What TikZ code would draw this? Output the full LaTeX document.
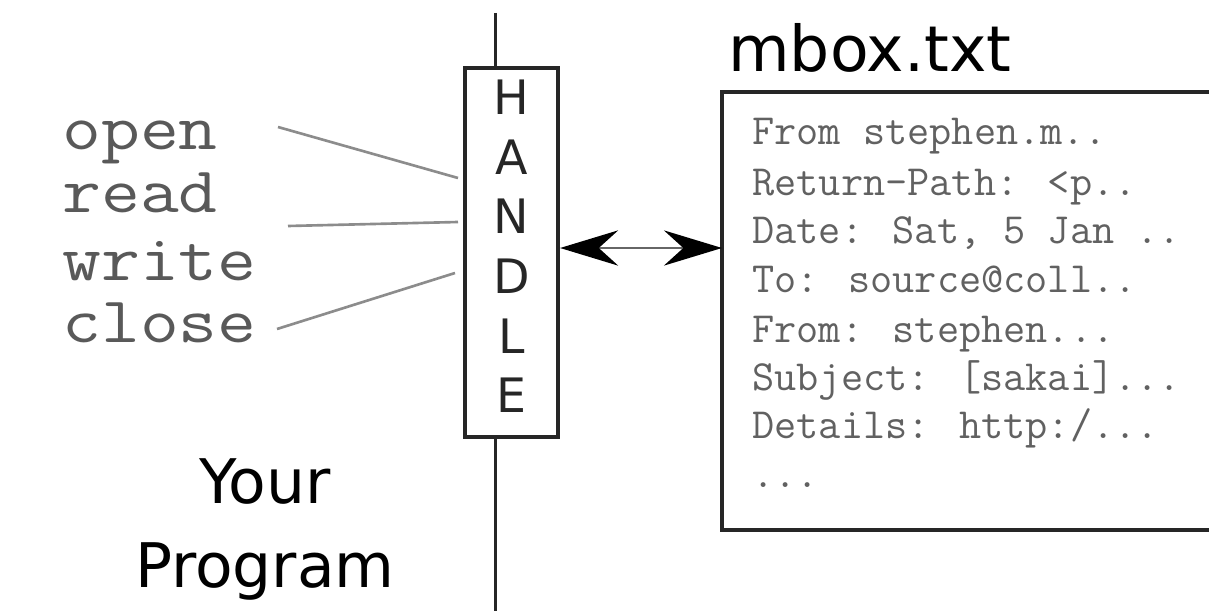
\documentclass[tikz,border=0pt]{standalone}
\usepackage{fontspec}
\setmainfont{DejaVu Sans}
\newfontfamily\opfont[FakeStretch=1.16]{Latin Modern Mono}
\usetikzlibrary{arrows.meta}
\tikzset{
  wire/.style={line width=1.7pt, black!85},
  frame/.style={draw, line width=2.3pt, black!85},
  call/.style={draw=black!45, line width=1.5pt},
  optext/.style={anchor=base west, inner sep=0pt, text=black!65,
    font=\opfont\fontsize{37}{37}\selectfont},
  mboxline/.style={anchor=base west, inner sep=0pt, text=black!62,
    font=\ttfamily\fontsize{24.5}{24.5}\selectfont},
  bigsans/.style={inner sep=0pt, font=\fontsize{35}{35}\selectfont},
  >={Stealth[length=33pt,width=20pt,inset=11pt,color=black]}
}
\begin{document}
\begin{tikzpicture}[x=0.02cm,y=-0.02cm]
 \useasboundingbox (0,0) rectangle (1209,611);
    % the handle and the wall between program and file
    \node[frame, minimum width=53pt, minimum height=210pt, align=center, inner sep=0pt, text depth=7pt,
      font=\fontsize{27}{34}\selectfont] (handle) at (511.5,252.5) {H\\A\\N\\D\\L\\E};
    \coordinate (top) at (495,13);
    \coordinate (bottom) at (495,611);
    \draw[wire] (top) -- (top |- handle.north);
    \draw[wire] (handle.south -| bottom) -- (bottom);
    % your program
    \node[optext] (open) at (62,150) {open};
    \node[optext] (read) at (62,213) {read};
    \node[optext] (write) at (62,280) {write};
    \node[optext] (close) at (62,342) {close};
    \coordinate (openA) at (278,127);
    \coordinate (openB) at (458,178);
    \coordinate (readA) at (288,226);
    \coordinate (readB) at (458,222);
    \coordinate (closeA) at (277,329);
    \coordinate (closeB) at (455,273);
    \draw[call] (openA) -- (openB);
    \draw[call] (readA) -- (readB);
    \draw[call] (closeA) -- (closeB);
    \node[bigsans, anchor=base] (your) at (265,503) {Your};
    \node[bigsans, anchor=base] (prog) at (265,587) {Program};
    % the file
    \node[bigsans, anchor=base west, font=\fontsize{36}{36}\selectfont] (mbox) at (728,72) {mbox.txt};
    \coordinate (fileleft) at (722,248);
    \draw[line width=2.3pt, black!85] (1209,92) -- (722,92) -- (722,530) -- (1209,530);
    \node[mboxline] (l1) at (752,145) {From stephen.m..};
    \node[mboxline] (l2) at (752,195) {Return-Path: <p..};
    \node[mboxline] (l3) at (752,243) {Date: Sat, 5 Jan ..};
    \node[mboxline] (l4) at (752,292) {To: source@coll..};
    \node[mboxline] (l5) at (752,342) {From: stephen...};
    \node[mboxline] (l6) at (752,390) {Subject: [sakai]...};
    \node[mboxline] (l7) at (752,438) {Details: http:/...};
    \node[mboxline] (l8) at (752,487) {...};
    \draw[<->, line width=1.7pt, black!60] (handle.east |- fileleft) -- (fileleft);
\end{tikzpicture}
\end{document}
